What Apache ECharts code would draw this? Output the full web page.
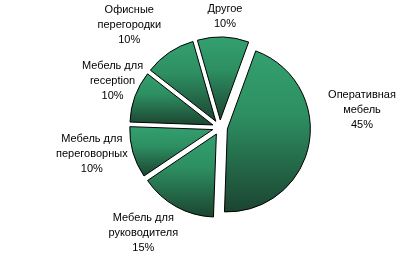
<!DOCTYPE html>
<html>
<head>
<meta charset="utf-8">
<script src="https://cdn.jsdelivr.net/npm/echarts@6/dist/echarts.min.js"></script>
<style>
html,body{margin:0;padding:0;background:#fff;}
#chart{width:411px;height:254px;}
</style>
</head>
<body>
<div id="chart"></div>
<script>
// Data
var categories = ['Оперативная\nмебель', 'Мебель для\nруководителя', 'Мебель для\nпереговорных', 'Мебель для\nreception', 'Офисные\nперегородки', 'Другое'];
var shares = [45, 15, 10, 10, 10, 10];

// Layout / style config
var CX = 220, CY = 127.5, R = 83, EXPLODE = 7.5, START = 70;
var labelGap = 6;
var labelShift = [[14, -40], [-13, 1.5], [-1, -6], [12, -6], [-19, -4], [1, 0.5]];

var grad = {
  type: 'linear', x: 0, y: 0, x2: 0, y2: 1,
  colorStops: [
    {offset: 0, color: '#34a06f'},
    {offset: 0.4, color: '#2d8f62'},
    {offset: 1, color: '#1b4430'}
  ]
};

var total = shares.reduce(function (a, b) { return a + b; }, 0);
var dataItems = categories.map(function (c, i) {
  return {name: c, value: shares[i]};
});

var chart = echarts.init(document.getElementById('chart'), null, {renderer: 'canvas'});
chart.setOption({
  animation: false,
  backgroundColor: '#fff',
  series: [{
    // exploded slices
    type: 'pie',
    center: [CX, CY],
    radius: [0, R],
    startAngle: START,
    clockwise: true,
    selectedMode: 'multiple',
    selectedOffset: EXPLODE,
    itemStyle: {color: grad, borderColor: '#000', borderWidth: 1},
    select: {itemStyle: {color: grad, borderColor: '#000', borderWidth: 1}},
    emphasis: {disabled: true},
    label: {show: false},
    labelLine: {show: false},
    data: dataItems.map(function (d) { return {name: d.name, value: d.value, selected: true}; })
  }, {
    // labels
    type: 'pie',
    silent: true,
    center: [CX, CY],
    radius: [0, R],
    startAngle: START,
    clockwise: true,
    z: 3,
    avoidLabelOverlap: false,
    itemStyle: {color: 'rgba(0,0,0,0)', borderWidth: 0},
    emphasis: {disabled: true},
    labelLine: {show: false},
    label: {
      show: true,
      position: 'outside',
      formatter: '{b}\n{d}%',
      fontFamily: 'Liberation Sans, Arial, sans-serif',
      fontSize: 11,
      lineHeight: 15,
      color: '#000',
      align: 'center'
    },
    labelLayout: function (p) {
      var i = p.dataIndex;
      var before = 0;
      for (var k = 0; k < i; k++) before += shares[k];
      var mid = START - (before + shares[i] / 2) / total * 360;
      var a = mid * Math.PI / 180;
      var dx = Math.cos(a), dy = -Math.sin(a);
      var ra = R + EXPLODE + labelGap;
      var w = p.labelRect.width, h = p.labelRect.height;
      return {
        x: CX + dx * (ra + w / 2) + labelShift[i][0],
        y: CY + dy * (ra + h / 2) + labelShift[i][1],
        align: 'center',
        verticalAlign: 'middle'
      };
    },
    data: dataItems
  }]
});
</script>
</body>
</html>
